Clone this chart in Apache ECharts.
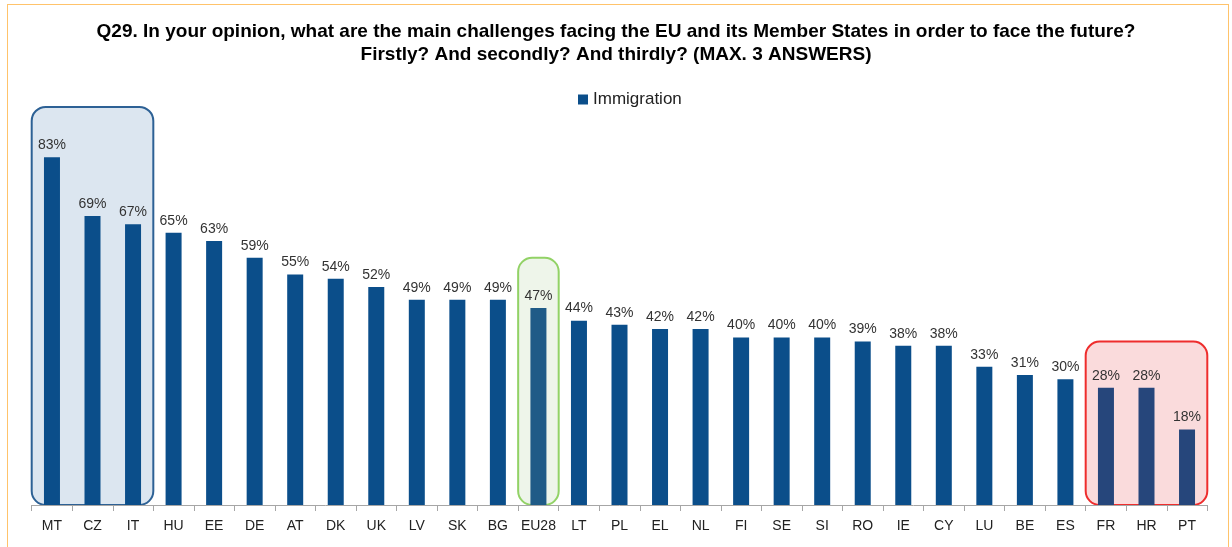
<!DOCTYPE html>
<html>
<head>
<meta charset="utf-8">
<script src="https://cdn.jsdelivr.net/npm/echarts@6/dist/echarts.min.js"></script>
<style>
  html, body { margin: 0; padding: 0; background: #fff; }
  #frame { position: absolute; left: 7px; top: 4px; width: 1222px; height: 560px;
           border: 1px solid #FFC36B; box-sizing: border-box; }
  #chart { position: absolute; left: 0; top: 0; width: 1232px; height: 547px; }
</style>
</head>
<body>
<div id="frame"></div>
<div id="chart"></div>
<script>
// countries, sorted as in the report
const countries = ['MT', 'CZ', 'IT', 'HU', 'EE', 'DE', 'AT', 'DK', 'UK', 'LV', 'SK', 'BG', 'EU28', 'LT', 'PL',
  'EL', 'NL', 'FI', 'SE', 'SI', 'RO', 'IE', 'CY', 'LU', 'BE', 'ES', 'FR', 'HR', 'PT']
const immigration = [83, 69, 67, 65, 63, 59, 55, 54, 52, 49, 49, 49, 47, 44, 43,
  42, 42, 40, 40, 40, 39, 38, 38, 33, 31, 30, 28, 28, 18]

// highlighted groups: [first category, last category, top value of box]
const boxes = [
  { from: 'MT', to: 'IT', top: 95, fill: '#DCE6F0', stroke: '#2D6195' },
  { from: 'EU28', to: 'EU28', top: 59, fill: '#EEF5EA', stroke: '#92D266' },
  { from: 'FR', to: 'PT', top: 39, fill: '#FADBDC', stroke: '#EE2D2D' }
]

const barColor = (name) => {
  if (name === 'EU28') return '#1F5B87'
  if (['FR', 'HR', 'PT'].includes(name)) return '#26467B'
  return '#0B4E8A'
}

const chart = echarts.init(document.getElementById('chart'))
chart.setOption({
  animation: false,
  textStyle: { fontFamily: 'Liberation Sans, Arial, sans-serif' },
  title: {
    text: 'Q29. In your opinion, what are the main challenges facing the EU and its Member States in order to face the future?\nFirstly? And secondly? And thirdly? (MAX. 3 ANSWERS)',
    left: 'center',
    top: 15,
    textStyle: { fontSize: 19, fontWeight: 'bold', color: '#000', lineHeight: 23 }
  },
  legend: {
    top: 86,
    left: 573,
    itemWidth: 10,
    itemHeight: 10,
    itemGap: 6,
    icon: 'rect',
    textStyle: { fontSize: 17, color: '#222' },
    data: ['Immigration']
  },
  grid: { left: 31.7, right: 24.7, top: 86, bottom: 42 },
  xAxis: {
    type: 'category',
    data: countries,
    axisLine: { lineStyle: { color: '#A6A6A6' } },
    axisTick: { show: true, length: 6, lineStyle: { color: '#A6A6A6' } },
    axisLabel: { fontSize: 14, color: '#222', margin: 14, interval: 0 }
  },
  yAxis: { type: 'value', min: 0, max: 100, show: false, splitLine: { show: false } },
  series: [{
    name: 'Immigration',
    type: 'bar',
    barWidth: 16,
    itemStyle: { color: '#0B4E8A' },
    data: immigration.map((v, i) => ({ value: v, itemStyle: { color: barColor(countries[i]) } })),
    label: { show: true, position: 'top', distance: 5, formatter: '{c}%', fontSize: 14, color: '#333' },
    z: 5
  }]
})

// rounded highlight boxes behind the bars
const step = chart.convertToPixel({ xAxisIndex: 0 }, countries[1]) - chart.convertToPixel({ xAxisIndex: 0 }, countries[0])
const base = chart.convertToPixel({ yAxisIndex: 0 }, 0)
chart.setOption({
  graphic: boxes.map(b => {
    const x0 = chart.convertToPixel({ xAxisIndex: 0 }, b.from) - step / 2
    const x1 = chart.convertToPixel({ xAxisIndex: 0 }, b.to) + step / 2
    const y0 = chart.convertToPixel({ yAxisIndex: 0 }, b.top)
    return {
      type: 'rect',
      z: -10,
      shape: { x: x0, y: y0, width: x1 - x0, height: base - y0, r: 14 },
      style: { fill: b.fill, stroke: b.stroke, lineWidth: 2 }
    }
  })
})
</script>
</body>
</html>
